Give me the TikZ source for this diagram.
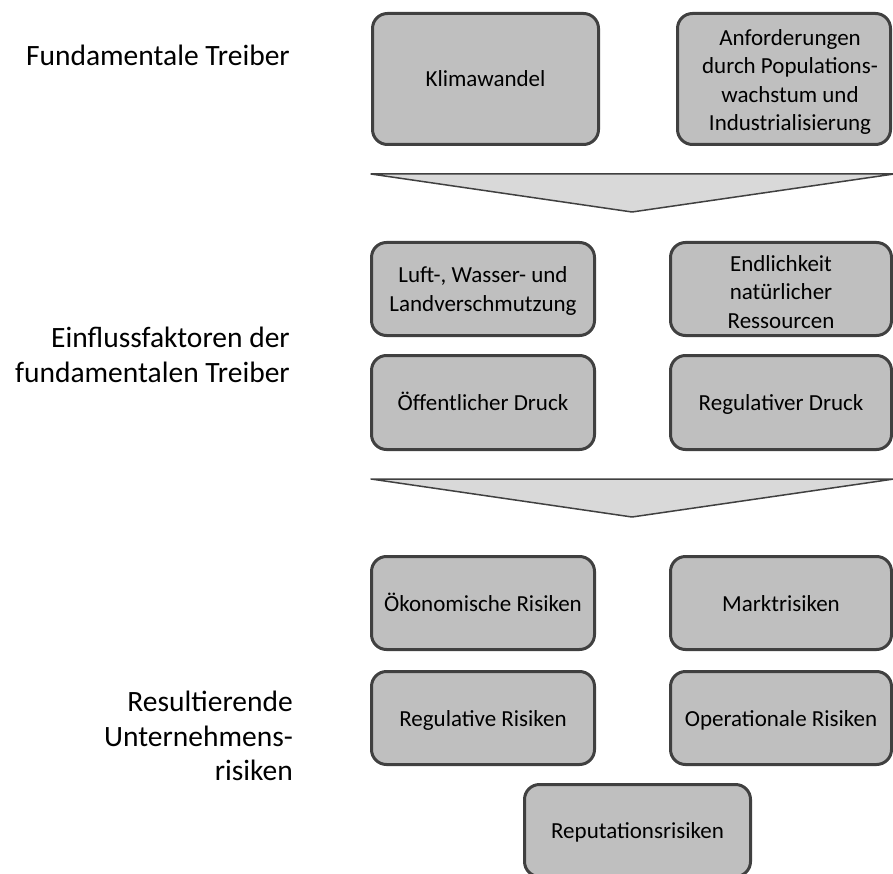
\documentclass[tikz,border=0pt]{standalone}
\usepackage{fontspec}
\setmainfont{Carlito}
\definecolor{boxfill}{HTML}{BFBFBF}
\definecolor{boxline}{HTML}{404040}
\definecolor{funnelfill}{HTML}{D9D9D9}
\begin{document}
\begin{tikzpicture}[x=1pt,y=-1pt,
  boxtext/.style={align=center, inner sep=0pt, font=\fontsize{23}{28.2}\selectfont},
  riskbox/.style={boxtext, draw=boxline, fill=boxfill, line width=3pt, rounded corners=15pt},
  oneline/.style={text height=19pt, text depth=3pt},
  funnel/.style={draw=boxline, fill=funnelfill, line width=1.5pt, line join=round},
  levellabel/.style={anchor=east, align=right, inner sep=0pt,
    font=\fontsize{29.5}{34.5}\selectfont}
]
\useasboundingbox (0,0) rectangle (893,874);

% level labels
\node[levellabel] (l1) at (290,55) {Fundamentale Treiber};
\node[levellabel] (l2) at (290,355) {Einflussfaktoren der\\fundamentalen Treiber};
\node[levellabel] (l3) at (293,736) {Resultierende\\Unternehmens-\\risiken};

% fundamental drivers
\node[riskbox, oneline, minimum width=226, minimum height=131] (klima) at (485.5,79) {Klimawandel};
\node[riskbox, minimum width=213, minimum height=131] (anf) at (784,79) {};
\node[boxtext] (anftext) at (790,82) {Anforderungen\\durch Populations-\\wachstum und\\Industrialisierung};

% first funnel
\coordinate (f1l) at (371,174);
\coordinate (f1r) at (894,174);
\coordinate (f1t) at (632,212);
\draw[funnel] (f1l) -- (f1r) -- (f1t) -- cycle;

% influencing factors
\node[riskbox, minimum width=223, minimum height=93] (luft) at (483,289) {};
\node[boxtext] (lufttext) at (483,291) {Luft-, Wasser- und\\Landverschmutzung};
\node[riskbox, minimum width=221, minimum height=93] (endl) at (781,289) {};
\node[boxtext] (endltext) at (781,292) {Endlichkeit\\natürlicher\\Ressourcen};
\node[riskbox, oneline, minimum width=223, minimum height=94] (oeff) at (483,402.5) {Öffentlicher Druck};
\node[riskbox, oneline, minimum width=221, minimum height=94] (regd) at (781,402.5) {Regulativer Druck};

% second funnel
\coordinate (f2l) at (371,479);
\coordinate (f2r) at (894,479);
\coordinate (f2t) at (632,517);
\draw[funnel] (f2l) -- (f2r) -- (f2t) -- cycle;

% resulting corporate risks
\node[riskbox, oneline, minimum width=223, minimum height=93] (oek) at (483,603) {Ökonomische Risiken};
\node[riskbox, oneline, minimum width=221, minimum height=93] (markt) at (781,603) {Marktrisiken};
\node[riskbox, oneline, minimum width=223, minimum height=93] (regr) at (483,718) {Regulative Risiken};
\node[riskbox, oneline, minimum width=221, minimum height=93] (oper) at (781,718) {Operationale Risiken};
\node[riskbox, oneline, minimum width=226, minimum height=92] (rep) at (637.5,830.5) {Reputationsrisiken};
\end{tikzpicture}
\end{document}
